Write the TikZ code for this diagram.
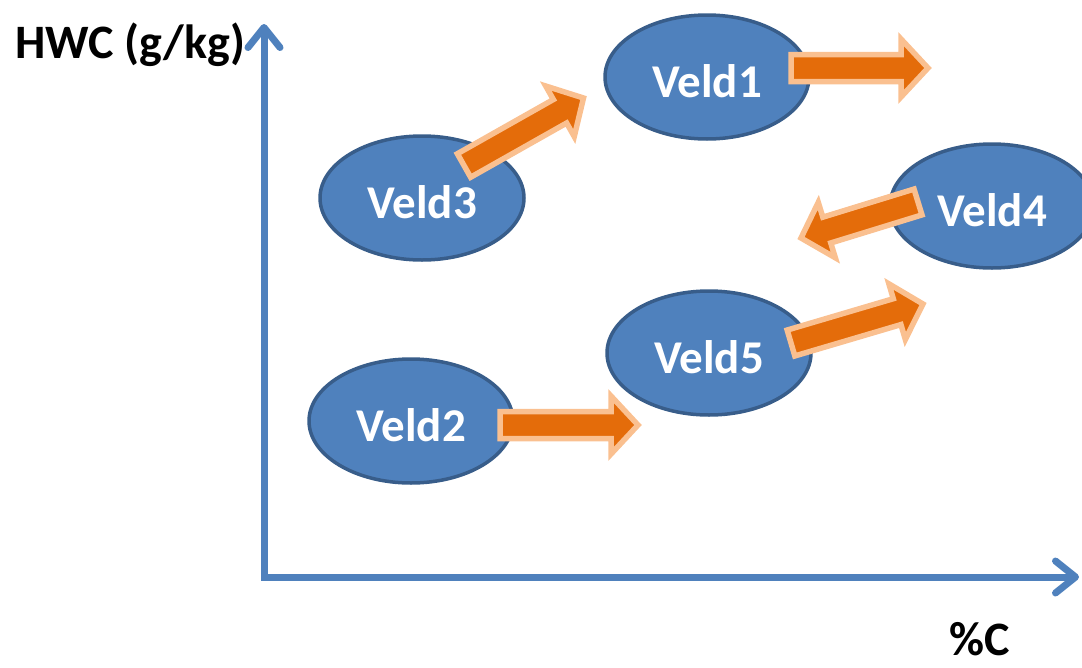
\documentclass[tikz,border=0pt]{standalone}
\usepackage{fontspec}
\setmainfont{Carlito}
\usetikzlibrary{shapes.geometric,arrows.meta,calc}

\definecolor{veldblue}{HTML}{4F81BD}
\definecolor{veldedge}{HTML}{385D8A}
\definecolor{movefill}{HTML}{E46C0A}
\definecolor{moveedge}{HTML}{FAC090}

\tikzset{
  veld/.style={ellipse, draw=veldedge, line width=3.5pt, fill=veldblue,
    minimum width=204pt, minimum height=124pt, inner sep=0pt,
    text height=41pt, text depth=0pt,
    text=white, font=\fontsize{47}{56}\selectfont\bfseries},
  axis/.style={draw=veldblue, line width=7pt, line join=miter,
    {Straight Barb[length=20pt,width=32pt,round]}-{Straight Barb[length=20pt,width=32pt,round]}},
  movearrow/.style={fill=movefill, draw=moveedge, line width=5.5pt, line join=miter},
  axislabel/.style={font=\fontsize{48}{58}\selectfont\bfseries, inner sep=0pt, anchor=base west},
}

%% fat block arrow from tail #1 to tip #2
\newcommand{\veldmove}[2]{%
  \coordinate (#1-head) at ($(#2)!27pt!(#1)$);
  \draw[movearrow] ($(#1)!13.5pt!90:(#2)$)
    -- ($(#1-head)!13.5pt!90:(#2)$) -- ($(#1-head)!29pt!90:(#2)$)
    -- (#2)
    -- ($(#1-head)!29pt!-90:(#2)$) -- ($(#1-head)!13.5pt!-90:(#2)$)
    -- ($(#1)!13.5pt!-90:(#2)$) -- cycle;
}

\begin{document}
\begin{tikzpicture}[x=1pt, y=-1pt]
  \useasboundingbox (0,0) rectangle (1082,667);

  %% ---- axes ----
  \coordinate (origin) at (264,577);
  \coordinate (ytop) at (264,24);
  \coordinate (xend) at (1079,577);
  \draw[axis] (ytop) -- (origin) -- (xend);

  \node[axislabel] (ylabel) at (15,58) {HWC (g/kg)};
  \node[axislabel] (xlabel) at (949,655) {\%C};

  %% ---- fields ----
  \node[veld] (veld1) at (707,77) {Veld1};
  \node[veld] (veld3) at (422,198) {Veld3};
  \node[veld] (veld4) at (992,206) {Veld4};
  \node[veld] (veld5) at (709,353) {Veld5};
  \node[veld] (veld2) at (411,421) {Veld2};

  %% ---- shifts ----
  \coordinate (out1) at (791,68);   \coordinate (end1) at (928,68);
  \coordinate (out3) at (464,165.5); \coordinate (end3) at (583.5,98);
  \coordinate (out4) at (918,202);  \coordinate (end4) at (801,238);
  \coordinate (out5) at (791,343);  \coordinate (end5) at (923,304);
  \coordinate (out2) at (500,425);  \coordinate (end2) at (638,425);

  \veldmove{out1}{end1}
  \veldmove{out3}{end3}
  \veldmove{out4}{end4}
  \veldmove{out5}{end5}
  \veldmove{out2}{end2}

\end{tikzpicture}
\end{document}
